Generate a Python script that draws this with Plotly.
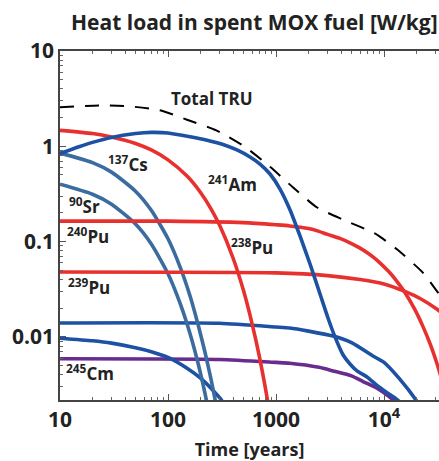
import math
import plotly.graph_objects as go

# ---- data ----
t_tot = [10, 23, 43, 84, 150, 280, 520, 880, 1440, 2400, 4400, 8300, 13000, 23000, 31000, 35000]
tot = [2.57, 2.68, 2.63, 2.39, 1.90, 1.47, 0.98, 0.61, 0.37, 0.228, 0.166, 0.121, 0.084, 0.047, 0.030, 0.025]

t_pu238 = [10, 20, 30, 50, 70, 100, 150, 200, 250, 300, 400, 500, 600, 700, 800, 900]
pu238 = [1.47, 1.36, 1.25, 1.07, 0.915, 0.72, 0.487, 0.328, 0.221, 0.149, 0.0673, 0.0306, 0.0138, 0.0063, 0.00285, 0.0013]

t_pu240 = [10, 100, 500, 1000, 1340, 2000, 2500, 3000, 3900, 5000, 6000, 7000, 7900, 9000, 11000,
           13000, 15600, 19000, 22900, 27000, 31000, 35000]
pu240 = [0.164, 0.164, 0.158, 0.150, 0.146, 0.137, 0.128, 0.119, 0.108, 0.0955, 0.0854, 0.0764, 0.0691, 0.061, 0.0488,
         0.039, 0.0292, 0.020, 0.0129, 0.0082, 0.0052, 0.0033]

t_pu239 = [10, 1000, 3000, 6000, 10000, 15600, 22000, 31000, 35000]
pu239 = [0.048, 0.047, 0.044, 0.040, 0.036, 0.030, 0.025, 0.0195, 0.0175]

t_am241 = [10, 15, 20, 30, 50, 70, 100, 160, 230, 323, 435, 574, 711, 880, 1089, 1349, 1668, 2065, 2555,
           3029, 3515, 4169, 4840, 5620, 6960, 8610, 10660, 13200, 16000]
am241 = [0.84, 0.99, 1.10, 1.24, 1.36, 1.40, 1.38, 1.26, 1.16, 1.045, 0.915, 0.772, 0.652, 0.512, 0.356, 0.215, 0.1146, 0.0582, 0.0282,
         0.0158, 0.0100, 0.0065, 0.0052, 0.0044, 0.0038, 0.0031, 0.0026, 0.0022, 0.0018]

t_am243 = [10, 300, 1000, 1340, 2000, 3370, 5000, 7900, 10000, 14000, 20200, 25000]
am243 = [0.014, 0.0139, 0.0127, 0.0124, 0.0115, 0.0102, 0.0087, 0.0063, 0.0054, 0.0036, 0.0021, 0.0014]

t_am242 = [10, 20, 30, 50, 70, 100, 150, 200, 250, 300, 350, 400]
am242 = [0.0097, 0.0091, 0.0086, 0.0077, 0.0070, 0.0061, 0.0047, 0.0037, 0.0029, 0.0023, 0.0018, 0.0014]

t_cm245 = [10, 300, 1000, 1340, 2500, 3370, 5000, 6400, 8600, 11000, 13200, 16000]
cm245 = [0.0059, 0.0058, 0.0054, 0.0053, 0.0048, 0.0044, 0.0039, 0.0034, 0.0029, 0.0024, 0.0020, 0.0016]

t_cs137 = [10, 20, 30, 50, 70, 100, 130, 160, 190, 220, 250, 280, 310]
cs137 = [0.85, 0.675, 0.536, 0.338, 0.213, 0.107, 0.0534, 0.0269, 0.0134, 0.0069, 0.0036, 0.0019, 0.0010]

t_sr90 = [10, 20, 30, 50, 70, 100, 130, 160, 190, 220, 250, 280]
sr90 = [0.40, 0.314, 0.247, 0.153, 0.0945, 0.046, 0.0222, 0.0108, 0.00526, 0.00256, 0.00124, 0.0006]

x_ticks = [10, 100, 1000, 10000]
x_ticktext = ["10", "100", "1000", "10<sup>4</sup>"]
y_ticks = [0.01, 0.1, 1, 10]
y_ticktext = ["0.01", "0.1", "1", "10"]

label_text = ["Total TRU", "<sup>137</sup>Cs", "<sup>241</sup>Am", "<sup>90</sup>Sr",
              "<sup>240</sup>Pu", "<sup>238</sup>Pu", "<sup>239</sup>Pu", "<sup>245</sup>Cm"]
label_x = [255, 43, 398, 17, 18.2, 600, 18.5, 19]
label_y = [3.2, 0.66, 0.41, 0.24, 0.116, 0.089, 0.0336, 0.0042]

RED = "#e8312f"
BLUE = "#1c51a3"
STEEL = "#3a6c9f"
PURPLE = "#6a2b8e"
TXT = "#222222"
FONT = "Open Sans"

fig = go.Figure()

def add(t, v, color, dash="solid", width=3.6):
    fig.add_trace(go.Scatter(x=t, y=v, mode="lines",
                             line=dict(color=color, width=width, dash=dash, shape="spline", smoothing=0.6),
                             showlegend=False, hoverinfo="skip"))

add(t_cm245, cm245, PURPLE)
add(t_am242, am242, BLUE)
add(t_am243, am243, BLUE)
add(t_sr90, sr90, STEEL)
add(t_cs137, cs137, STEEL)
add(t_pu239, pu239, RED)
add(t_pu240, pu240, RED)
add(t_pu238, pu238, RED)
add(t_am241, am241, BLUE)
add(t_tot, tot, "black", dash="14px,11px", width=2)

for txt, x, y in zip(label_text, label_x, label_y):
    fig.add_annotation(x=math.log10(x), y=math.log10(y), xref="x", yref="y", text=txt, showarrow=False,
                       xanchor="center", yanchor="middle",
                       font=dict(family=FONT, size=17, color=TXT, weight="bold"))

W, H = 439, 461
L, R, T, B = 60, 0, 51, 61

fig.add_annotation(x=(254 - L) / (W - L - R), y=1 + (T - 22) / (H - T - B), xref="paper", yref="paper",
                   text="Heat load in spent MOX fuel [W/kg]", showarrow=False,
                   xanchor="center", yanchor="middle",
                   font=dict(family=FONT, size=21, color=TXT, weight="bold"))

fig.update_layout(
    width=W, height=H,
    margin=dict(l=L, r=R, t=T, b=B, pad=0),
    paper_bgcolor="white", plot_bgcolor="white",
)

fig.update_xaxes(type="log", range=[1, 4.509], tickvals=x_ticks, ticktext=x_ticktext,
                 ticks="inside", ticklen=6, tickwidth=1.2, tickcolor="#555",
                 showline=True, linecolor="#444", linewidth=1.5, mirror="ticks",
                 showgrid=False, zeroline=False,
                 minor=dict(ticks="inside", ticklen=3, tickcolor="#666", dtick="D1", showgrid=False),
                 tickfont=dict(family=FONT, size=21, color=TXT, weight="bold"),
                 title=dict(text="Time [years]", font=dict(family=FONT, size=18, color=TXT, weight="bold"), standoff=12))
fig.update_yaxes(type="log", range=[-2.662, 1], tickvals=y_ticks, ticktext=y_ticktext,
                 ticks="inside", ticklen=6, tickwidth=1.2, tickcolor="#555",
                 showline=True, linecolor="#444", linewidth=1.5,
                 showgrid=False, zeroline=False,
                 minor=dict(ticks="inside", ticklen=3, tickcolor="#666", dtick="D1", showgrid=False),
                 tickfont=dict(family=FONT, size=21, color=TXT, weight="bold"))

fig.write_html("out.html")
